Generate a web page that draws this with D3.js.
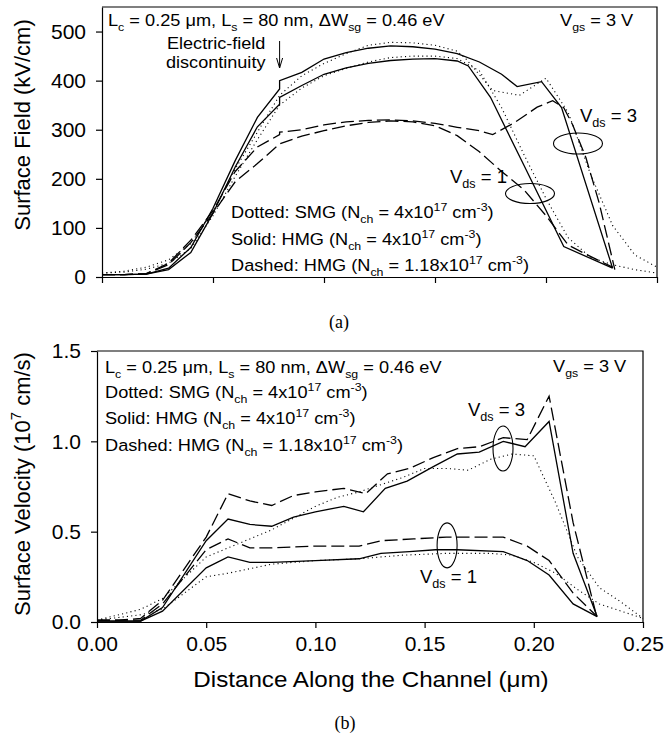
<!DOCTYPE html>
<html>
<head>
<meta charset="utf-8">
<script src="https://cdn.jsdelivr.net/npm/d3@7"></script>
<style>
body { margin: 0; background: #fff; }
text { font-family: "Liberation Sans", Arial, sans-serif; fill: #000; }
.axis path, .axis line { stroke: #000; stroke-width: 1.2; }
.axis text { font-family: "Liberation Sans", Arial, sans-serif; font-size: 21px; fill: #000; }
.curve { fill: none; stroke: #000; }
</style>
</head>
<body>
<script>
// ---- Data: (a) surface field, kV/cm ----
var fieldSolid3 = [[0,5],[0.01,5],[0.02,6],[0.03,18],[0.04,60],[0.05,140],[0.06,237],[0.07,325],[0.08,383],[0.08,400],
    [0.09,417],[0.10,444],[0.11,457],[0.12,466],[0.13,471],[0.14,469],[0.15,464],[0.16,455],[0.17,438],[0.18,413],
    [0.187,388],[0.198,398],[0.207,345],[0.23,18]];
var fieldSolid1 = [[0,5],[0.01,5],[0.02,6],[0.03,15],[0.04,50],[0.05,130],[0.06,224],[0.07,306],[0.08,352],[0.08,366],
    [0.09,390],[0.10,413],[0.11,426],[0.12,435],[0.13,441],[0.14,444],[0.15,445],[0.16,440],[0.165,430],[0.175,366],
    [0.19,228],[0.208,62],[0.23,18]];
var fieldDot3 = [[0,8],[0.01,12],[0.02,20],[0.03,35],[0.04,68],[0.05,135],[0.06,220],[0.07,295],[0.08,370],[0.09,410],
    [0.10,435],[0.11,455],[0.12,472],[0.13,478],[0.14,477],[0.15,472],[0.16,460],[0.164,444],[0.176,380],[0.188,370],
    [0.20,405],[0.21,335],[0.22,210],[0.23,105],[0.24,45],[0.25,20]];
var fieldDot1 = [[0,8],[0.01,10],[0.02,16],[0.03,28],[0.04,58],[0.05,125],[0.06,205],[0.07,280],[0.08,350],[0.09,385],
    [0.10,410],[0.11,425],[0.12,438],[0.13,447],[0.14,450],[0.15,450],[0.16,445],[0.17,420],[0.18,345],[0.19,250],
    [0.20,160],[0.21,80],[0.22,40],[0.23,25],[0.24,15],[0.25,8]];
var fieldDash3 = [[0,5],[0.01,5],[0.02,7],[0.03,28],[0.04,75],[0.05,135],[0.06,215],[0.07,265],[0.08,290],[0.08,295],
    [0.09,300],[0.10,310],[0.11,316],[0.12,319],[0.13,320],[0.14,318],[0.15,313],[0.16,305],[0.17,298],[0.176,290],
    [0.186,315],[0.196,346],[0.203,359],[0.208,345],[0.212,310],[0.218,243],[0.224,150],[0.231,15]];
var fieldDash1 = [[0,5],[0.01,5],[0.02,7],[0.03,25],[0.04,70],[0.05,130],[0.06,194],[0.07,231],[0.08,271],[0.09,287],
    [0.10,298],[0.11,308],[0.12,315],[0.13,318],[0.14,316],[0.15,308],[0.16,288],[0.17,255],[0.18,215],[0.19,178],
    [0.20,125],[0.21,65],[0.22,42],[0.23,20]];

// ---- Data: (b) surface velocity, 1e7 cm/s ----
var velDash3 = [[0,0.01],[0.01,0.01],[0.02,0.02],[0.03,0.12],[0.05,0.47],[0.06,0.71],[0.07,0.67],[0.08,0.645],[0.09,0.70],
    [0.10,0.72],[0.113,0.74],[0.123,0.71],[0.133,0.82],[0.143,0.85],[0.154,0.91],[0.165,0.96],[0.175,0.97],[0.186,1.02],
    [0.197,1.01],[0.207,1.25],[0.218,0.55],[0.229,0.02]];
var velSolid3 = [[0,0.005],[0.02,0.005],[0.03,0.08],[0.05,0.45],[0.06,0.57],[0.07,0.54],[0.08,0.53],[0.09,0.58],[0.10,0.61],
    [0.113,0.64],[0.122,0.61],[0.132,0.74],[0.142,0.78],[0.154,0.86],[0.165,0.93],[0.175,0.94],[0.186,1.0],[0.196,0.97],
    [0.207,1.11],[0.218,0.38],[0.229,0.03]];
var velDash1 = [[0,0.01],[0.02,0.01],[0.03,0.10],[0.05,0.40],[0.06,0.46],[0.07,0.41],[0.08,0.41],[0.10,0.42],[0.12,0.42],
    [0.13,0.45],[0.145,0.46],[0.16,0.47],[0.186,0.47],[0.197,0.42],[0.207,0.34],[0.218,0.16],[0.229,0.03]];
var velSolid1 = [[0,0.005],[0.02,0.005],[0.03,0.06],[0.05,0.30],[0.06,0.36],[0.07,0.33],[0.08,0.33],[0.10,0.34],[0.12,0.35],
    [0.13,0.38],[0.143,0.39],[0.155,0.40],[0.165,0.40],[0.186,0.39],[0.197,0.34],[0.207,0.26],[0.218,0.10],[0.229,0.03]];
var velDot3 = [[0,0.01],[0.02,0.07],[0.03,0.13],[0.05,0.36],[0.08,0.51],[0.10,0.64],[0.11,0.69],[0.12,0.72],[0.13,0.76],
    [0.14,0.80],[0.15,0.85],[0.16,0.85],[0.17,0.84],[0.18,0.90],[0.19,0.93],[0.20,0.92],[0.21,0.66],[0.22,0.36],
    [0.23,0.19],[0.24,0.11],[0.25,0.02]];
var velDot1 = [[0,0.01],[0.02,0.04],[0.03,0.07],[0.05,0.25],[0.06,0.27],[0.08,0.32],[0.10,0.34],[0.12,0.35],[0.14,0.37],
    [0.16,0.38],[0.18,0.38],[0.19,0.37],[0.20,0.33],[0.21,0.27],[0.22,0.18],[0.23,0.10],[0.24,0.06],[0.25,0.02]];

// ---- Ticks ----
var xTicks = [0, 0.05, 0.10, 0.15, 0.20, 0.25];
var fieldTicks = [0, 100, 200, 300, 400, 500];
var velTicks = [0, 0.5, 1.0, 1.5];

var w = 665, h = 737;
var svg = d3.select("body").append("svg").attr("width", w).attr("height", h);

// text with _{sub} and ^{sup}; sx stretches it sideways like the scanned lettering
function rich(g, x, y, str, size, sx) {
    var t = g.append("text").style("font-size", size + "px")
        .attr("transform", "translate(" + x + "," + y + ") scale(" + (sx || 1) + ",1)");
    var re = /([_^])\{([^}]*)\}/g, last = 0, m, shift = 0, parts = [];
    while ((m = re.exec(str)) !== null) {
        if (m.index > last) parts.push([str.slice(last, m.index), null]);
        parts.push([m[2], m[1] == "_" ? "sub" : "sup"]);
        last = re.lastIndex;
    }
    if (last < str.length) parts.push([str.slice(last), null]);
    parts.forEach(function(p) {
        var target = p[1] == "sub" ? size * 0.3 : (p[1] == "sup" ? -size * 0.4 : 0);
        var ts = t.append("tspan").attr("dy", target - shift).text(p[0]);
        if (p[1]) ts.style("font-size", (size * 0.68) + "px");
        shift = target;
    });
    return t;
}

var line = function(x, y) {
    return d3.line().x(function(d) { return x(d[0]); }).y(function(d) { return y(d[1]); });
};

function drawPanel(cfg) {
    var x = d3.scaleLinear().domain([0, 0.25]).range([cfg.left, cfg.right]);
    var y = d3.scaleLinear().domain(cfg.ydomain).range([cfg.bottom, cfg.top]);
    var g = svg.append("g");

    // frame top & right
    g.append("path")
        .attr("d", "M" + cfg.left + "," + cfg.top + "H" + cfg.right + "V" + cfg.bottom)
        .attr("fill", "none").attr("stroke", "#000").attr("stroke-width", 1.2);

    g.append("g").attr("class", "axis")
        .attr("transform", "translate(0," + cfg.bottom + ")")
        .call(d3.axisBottom(x).tickValues(xTicks).tickSize(6).tickSizeOuter(0).tickPadding(8)
            .tickFormat(cfg.xlabels ? d3.format(".2f") : function() { return ""; }));

    g.append("g").attr("class", "axis")
        .attr("transform", "translate(" + cfg.left + ",0)")
        .call(d3.axisLeft(y).tickValues(cfg.yticks).tickSize(6).tickSizeOuter(0).tickPadding(10)
            .tickFormat(cfg.yfmt));

    var ln = line(x, y);
    cfg.series.forEach(function(s) {
        var p = g.append("path").datum(s.data).attr("class", "curve").attr("d", ln);
        if (s.style == "solid") p.attr("stroke-width", 1.3);
        if (s.style == "dash") p.attr("stroke-width", 1.3).attr("stroke-dasharray", "13,5");
        if (s.style == "dot") p.attr("stroke-width", 1.1).attr("stroke-dasharray", "1.1,3.2");
    });

    cfg.ellipses.forEach(function(e) {
        g.append("ellipse").attr("cx", x(e[0])).attr("cy", y(e[1]))
            .attr("rx", e[2]).attr("ry", e[3])
            .attr("fill", "none").attr("stroke", "#000").attr("stroke-width", 1.1);
    });
    return {g: g, x: x, y: y};
}

var solidDotDash = function(d3v, d1v, s3, s1, da3, da1) {
    return [{data: d3v, style: "dot"}, {data: d1v, style: "dot"},
            {data: s3, style: "solid"}, {data: s1, style: "solid"},
            {data: da3, style: "dash"}, {data: da1, style: "dash"}];
};

// ---- Panel (a) ----
var pa = drawPanel({
    left: 102, right: 657, top: 7, bottom: 277, ydomain: [0, 550],
    yticks: fieldTicks, yfmt: d3.format("d"), xlabels: false,
    series: solidDotDash(fieldDot3, fieldDot1, fieldSolid3, fieldSolid1, fieldDash3, fieldDash1),
    ellipses: [[0.2144, 272, 24.5, 10.5], [0.1928, 170, 24.5, 10]]
});
var ga = pa.g;
rich(ga, 108, 26, "L_{c} = 0.25 \u03bcm, L_{s} = 80 nm, \u0394W_{sg} = 0.46 eV", 17, 1.07);
rich(ga, 560, 26, "V_{gs} = 3 V", 17, 1.07);
rich(ga, 167, 49, "Electric-field", 16, 1.13);
rich(ga, 166, 67.5, "discontinuity", 16, 1.13);
var ax = pa.x(0.08);
ga.append("path")
    .attr("d", "M" + ax + ",41V68M" + (ax - 3) + ",58L" + ax + ",68L" + (ax + 3) + ",58")
    .attr("fill", "none").attr("stroke", "#000").attr("stroke-width", 1);
rich(ga, 231, 218, "Dotted: SMG (N_{ch} = 4x10^{17} cm^{-3})", 17, 1.07);
rich(ga, 231, 245, "Solid: HMG (N_{ch} = 4x10^{17} cm^{-3})", 17, 1.07);
rich(ga, 231, 271, "Dashed: HMG (N_{ch} = 1.18x10^{17} cm^{-3})", 17, 1.07);
rich(ga, 580, 121.5, "V_{ds} = 3", 18, 1.03);
rich(ga, 450, 183, "V_{ds} = 1", 18, 1.03);
rich(ga, 0, 0, "Surface Field (kV/cm)", 22)
    .attr("transform", "translate(30,125) rotate(-90)").attr("text-anchor", "middle");
svg.append("text").attr("x", 339).attr("y", 328).attr("text-anchor", "middle")
    .style("font-family", "'Liberation Serif', 'Times New Roman', serif").style("font-size", "18px").text("(a)");

// ---- Panel (b) ----
var pb = drawPanel({
    left: 97, right: 643, top: 351, bottom: 622, ydomain: [0, 1.5],
    yticks: velTicks, yfmt: d3.format(".1f"), xlabels: true,
    series: solidDotDash(velDot3, velDot1, velSolid3, velSolid1, velDash3, velDash1),
    ellipses: [[0.1859, 0.96, 10, 22.5], [0.1603, 0.424, 10, 22.5]]
});
var gb = pb.g;
rich(gb, 105, 373, "L_{c} = 0.25 \u03bcm, L_{s} = 80 nm, \u0394W_{sg} = 0.46 eV", 17, 1.07);
rich(gb, 553, 372, "V_{gs} = 3 V", 17, 1.07);
rich(gb, 105, 398, "Dotted: SMG (N_{ch} = 4x10^{17} cm^{-3})", 17, 1.07);
rich(gb, 105, 424, "Solid: HMG (N_{ch} = 4x10^{17} cm^{-3})", 17, 1.07);
rich(gb, 105, 451, "Dashed: HMG (N_{ch} = 1.18x10^{17} cm^{-3})", 17, 1.07);
rich(gb, 468, 416, "V_{ds} = 3", 18, 1.03);
rich(gb, 420, 583, "V_{ds} = 1", 18, 1.03);
rich(gb, 0, 0, "Surface Velocity (10^{7} cm/s)", 22)
    .attr("transform", "translate(30,484) rotate(-90)").attr("text-anchor", "middle");
rich(gb, 371, 687, "Distance Along the Channel (\u03bcm)", 22, 1.1).attr("text-anchor", "middle");
svg.append("text").attr("x", 345).attr("y", 729).attr("text-anchor", "middle")
    .style("font-family", "'Liberation Serif', 'Times New Roman', serif").style("font-size", "18px").text("(b)");
</script>
</body>
</html>
